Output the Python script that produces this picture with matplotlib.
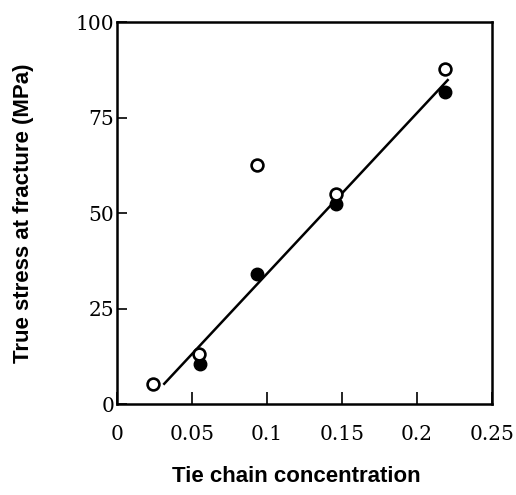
# True stress at fracture vs tie chain concentration.
import matplotlib.pyplot as plt

# Open circles
open_x = [0.0242, 0.0549, 0.0931, 0.146, 0.2189]
open_y = [5.2, 13.2, 62.6, 54.9, 87.8]

# Filled circles
filled_x = [0.0553, 0.0935, 0.146, 0.2189]
filled_y = [10.4, 34.1, 52.4, 81.7]

# Fitted line end points
fit_x = [0.0315, 0.2205]
fit_y = [5.3, 84.8]

xticks = [0, 0.05, 0.1, 0.15, 0.2, 0.25]
xticklabels = ['0', '0.05', '0.1', '0.15', '0.2', '0.25']
yticks = [0, 25, 50, 75, 100]

fig = plt.figure(figsize=(5.16, 4.95), dpi=100)
ax = fig.add_axes([0.2267, 0.1838, 0.7267, 0.7717])

ax.plot(fit_x, fit_y, color='black', lw=1.8)
ax.plot(filled_x, filled_y, 'o', color='black', ms=9)
ax.plot(open_x, open_y, 'o', mfc='white', mec='black', mew=1.9, ms=8.5)

ax.set_xlim(0, 0.25)
ax.set_ylim(0, 100)
ax.set_xticks(xticks)
ax.set_xticklabels(xticklabels)
ax.set_yticks(yticks)

for lab in ax.get_xticklabels() + ax.get_yticklabels():
    lab.set_family('DejaVu Serif')
    lab.set_fontsize(14.5)

ax.tick_params(axis='x', direction='in', length=9, width=1.2, pad=15)
ax.tick_params(axis='y', direction='in', length=7, width=1.2, pad=2)
for s in ax.spines.values():
    s.set_linewidth(1.8)

ax.set_xlabel('Tie chain concentration', fontsize=16, fontweight='bold',
              family='Liberation Sans')
ax.xaxis.set_label_coords(0.477, -0.163)
ax.set_ylabel('True stress at fracture (MPa)', fontsize=16, fontweight='bold',
              family='Liberation Sans', labelpad=30)

fig.savefig('out.png', dpi=100)
